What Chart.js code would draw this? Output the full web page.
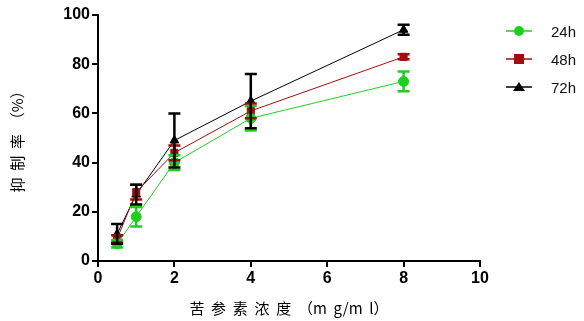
<!DOCTYPE html>
<html>
<head>
<meta charset="utf-8">
<script src="https://cdn.jsdelivr.net/npm/chart.js@4"></script>
<style>
  html, body { margin: 0; padding: 0; background: #fff; }
  #wrap { position: relative; width: 584px; height: 321px; }
  #legend { position: absolute; left: 505px; top: 17px; font: 15px "Liberation Sans", Arial, sans-serif; color: #111; }
  #legend div { height: 28px; display: flex; align-items: center; }
  #legend svg { margin-right: 18px; }
</style>
</head>
<body>
<div id="wrap">
  <canvas id="myChart" width="584" height="321"></canvas>
  <div id="legend"></div>
</div>
<script>
const doses = [0.5, 1, 2, 4, 8];
const labels = ['24h', '48h', '72h'];
const colors = ['#1fcf1f', '#a00d0d', '#000000'];
const markers = ['circle', 'rect', 'triangle'];
const mean24 = [7, 18, 40, 58, 73];
const err24 = [1.5, 4, 3, 5, 4];
const mean48 = [9, 28, 44, 61, 83];
const err48 = [1.5, 3, 3, 3, 1];
const mean72 = [11, 27, 49, 65, 94];
const err72 = [4, 4, 11, 11, 2];
const xTicks = [0, 2, 4, 6, 8, 10];
const yTicks = [0, 20, 40, 60, 80, 100];

const means = [mean24, mean48, mean72];
const errs = [err24, err48, err72];

const ctx = document.getElementById('myChart');

const errorBars = {
  id: 'errorBars',
  afterDatasetsDraw(chart) {
    const c = chart.ctx;
    const xs = chart.scales.x, ys = chart.scales.y;
    chart.data.datasets.forEach((ds, i) => {
      c.save();
      c.strokeStyle = colors[i];
      c.lineWidth = 2.5;
      ds.data.forEach((p, j) => {
        const e = errs[i][j];
        const px = xs.getPixelForValue(p.x);
        const top = ys.getPixelForValue(p.y + e);
        const bot = ys.getPixelForValue(p.y - e);
        c.beginPath();
        c.moveTo(px, top); c.lineTo(px, bot);
        c.moveTo(px - 6, top); c.lineTo(px + 6, top);
        c.moveTo(px - 6, bot); c.lineTo(px + 6, bot);
        c.stroke();
      });
      c.restore();
    });
  }
};

const tickFont = { family: '"Liberation Sans Narrow", "Liberation Sans", Arial', size: 16, weight: 'bold' };

const data = {
  datasets: labels.map((lab, i) => ({
    label: lab,
    data: doses.map((d, j) => ({ x: d, y: means[i][j] })),
    borderColor: colors[i],
    backgroundColor: colors[i],
    borderWidth: 1,
    pointStyle: markers[i],
    pointRadius: 5,
    pointHoverRadius: 5,
    tension: 0
  }))
};

const config = {
  type: 'line',
  data: data,
  plugins: [errorBars],
  options: {
    responsive: false,
    animation: false,
    layout: { padding: { top: 15, right: 104, left: 0, bottom: 0 } },
    plugins: {
      legend: { display: false },
      tooltip: { enabled: false }
    },
    scales: {
      x: {
        type: 'linear',
        min: 0,
        max: 10,
        afterBuildTicks: s => { s.ticks = xTicks.map(v => ({ value: v })); },
        afterFit: s => { s.height = 60; },
        grid: { drawOnChartArea: false, drawTicks: true, tickLength: 6, color: '#000', lineWidth: 2 },
        border: { color: '#000', width: 2 },
        ticks: { color: '#000', font: tickFont, padding: 2, maxRotation: 0 },
        title: {
          display: true,
          text: '苦  参  素  浓  度  （m  g/m  l）',
          color: '#000',
          font: { family: '"Noto Sans CJK SC"', size: 15 },
          padding: { top: 0 }
        }
      },
      y: {
        min: 0,
        max: 100,
        afterBuildTicks: s => { s.ticks = yTicks.map(v => ({ value: v })); },
        afterFit: s => { s.width = 98; },
        grid: { drawOnChartArea: false, drawTicks: true, tickLength: 6, color: '#000', lineWidth: 2 },
        border: { color: '#000', width: 2 },
        ticks: { color: '#000', font: tickFont, padding: 2 },
        title: {
          display: true,
          text: '抑  制  率  （%）',
          color: '#000',
          font: { family: '"Noto Sans CJK SC"', size: 15 },
          padding: { top: 8, bottom: 4 }
        }
      }
    }
  }
};

new Chart(ctx, config);

// legend with line + marker symbol
const legend = document.getElementById('legend');
labels.forEach((lab, i) => {
  const col = colors[i];
  let mark;
  if (markers[i] === 'circle') mark = `<circle cx="14" cy="7" r="5" fill="${col}"/>`;
  else if (markers[i] === 'rect') mark = `<rect x="9" y="2" width="10" height="10" fill="${col}"/>`;
  else mark = `<polygon points="14,2 20,11 8,11" fill="${col}"/>`;
  const row = document.createElement('div');
  row.innerHTML = `<svg width="28" height="14"><line x1="1" y1="7" x2="27" y2="7" stroke="${col}" stroke-width="1.5"/>${mark}</svg><span>${lab}</span>`;
  legend.appendChild(row);
});
</script>
</body>
</html>
